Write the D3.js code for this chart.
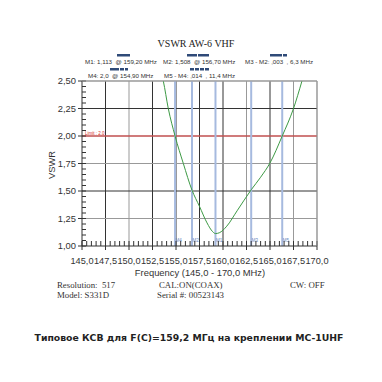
<!DOCTYPE html>
<html><head><meta charset="utf-8">
<script src="https://cdn.jsdelivr.net/npm/d3@7"></script>
<style>body{margin:0;background:#fff}svg{display:block}text{white-space:pre}</style>
</head><body>
<script>
// ---- data ----
const freqs = [153.2,153.65,154.18,154.9,155.78,156.7,157.5,158.3,158.9,159.2,159.6,160.4,161.5,163.0,164.0,165.0,166.3,167.5,168.4,168.8];
const vswr  = [2.65,2.5,2.25,2.0,1.75,1.508,1.36,1.21,1.13,1.113,1.12,1.18,1.32,1.511,1.625,1.755,2.0,2.25,2.5,2.62];
const xTicks = [145,147.5,150,152.5,155,157.5,160,162.5,165,167.5,170];
const yTicks = [1.0,1.25,1.5,1.75,2.0,2.25,2.5];
const markerNames = ["M4","M2","M1","M3","M5"];
const markerFreqs = [154.9,156.7,159.2,163.0,166.3];
const limitValue = 2.0;
const titleText = "VSWR AW-6 VHF";
const infoLine1 = ["M1: 1,113  @ 159,20 MHz","M2: 1,508  @ 156,70 MHz","M3 - M2: ,003  , 6,3 MHz"];
const infoLine2 = ["M4: 2,0  @ 154,90 MHz","M5 - M4: ,014  , 11,4 MHz"];
const footerLeft = ["Resolution:  517","Model: S331D"];
const footerMid = ["CAL:ON(COAX)","Serial #: 00523143"];
const footerRight = ["CW: OFF"];
const caption = "Типовое КСВ для F(C)=159,2 МГц на креплении MC-1UHF";

const W=382,H=382;
const svg=d3.select("body").append("svg").attr("width",W).attr("height",H);
const L=82,R=317,T=81,B=246;
const x=d3.scaleLinear().domain([145,170]).range([L,R]);
const y=d3.scaleLinear().domain([1,2.5]).range([B,T]);

// title
svg.append("text").attr("x",196).attr("y",47).attr("text-anchor","middle")
 .attr("font-family","Liberation Serif").attr("font-size",10).attr("fill","#222").text(titleText);

// info text
const sans="Liberation Sans";
const l1x=[85,163,245], l2x=[88,164];
infoLine1.forEach((t,i)=>svg.append("text").attr("x",l1x[i]).attr("y",64).attr("font-family",sans).attr("font-size",6.2).attr("fill","#333").text(t));
infoLine2.forEach((t,i)=>svg.append("text").attr("x",l2x[i]).attr("y",78).attr("font-family",sans).attr("font-size",6.2).attr("fill","#333").text(t));
// navy bars
const bars=[[117,54,13],[187,54,10],[198,54,11],[270,54,12],[283,54,4],[110,68,9],[120,68,4],[125,68,3],[190,68,4],[195,68,4],[200,68,4],[205,68,4]];
bars.forEach(b=>svg.append("rect").attr("x",b[0]).attr("y",b[1]).attr("width",b[2]).attr("height",2.5).attr("fill","#2f4a78"));

// grid
const dark=new Set([147.5,152.5,155,157.5,160,165]);
xTicks.forEach(v=>{ if(v===145) return;
 svg.append("line").attr("x1",x(v)).attr("x2",x(v)).attr("y1",T).attr("y2",B)
  .attr("stroke",dark.has(v)?"#333":"#999").attr("stroke-width",1);});
const darkY=new Set([2.25,1.5]);
yTicks.forEach(v=>{ if(v===1) return;
 svg.append("line").attr("x1",L).attr("x2",R).attr("y1",y(v)).attr("y2",y(v))
  .attr("stroke",darkY.has(v)?"#333":"#999").attr("stroke-width",1);});

// limit line
svg.append("line").attr("x1",L).attr("x2",R).attr("y1",y(limitValue)).attr("y2",y(limitValue)).attr("stroke","#d42a2a").attr("stroke-width",1.2);
svg.append("text").attr("x",L+3).attr("y",y(limitValue)-1.5).attr("font-family",sans).attr("font-size",4.5).attr("fill","#d42a2a").text("Limit : 2,0");

// markers
markerFreqs.forEach((f,i)=>{
 svg.append("line").attr("x1",x(f)).attr("x2",x(f)).attr("y1",T).attr("y2",B).attr("stroke","#a6badf").attr("stroke-width",2);
 svg.append("text").attr("x",x(f)+0.5).attr("y",B-4).attr("font-family",sans).attr("font-size",4.5).attr("fill","#6a86c0").text(markerNames[i]);
});

// curve
svg.append("clipPath").attr("id","c").append("rect").attr("x",L).attr("y",T).attr("width",R-L).attr("height",B-T);
const pts=freqs.map((f,i)=>[f,vswr[i]]);
svg.append("path").datum(pts).attr("clip-path","url(#c)")
 .attr("d",d3.line().x(d=>x(d[0])).y(d=>y(d[1])).curve(d3.curveMonotoneX))
 .attr("fill","none").attr("stroke","#3d9a45").attr("stroke-width",1);

// axes
const xAxis=svg.append("g").attr("transform",`translate(0,${B})`);
xAxis.append("line").attr("x1",L).attr("x2",R).attr("stroke","#333");
d3.range(145,170.01,0.5).forEach(v=>{
 xAxis.append("line").attr("x1",x(v)).attr("x2",x(v)).attr("y1",0).attr("y2",-5).attr("stroke","#333");});
xTicks.forEach(v=>{
 xAxis.append("line").attr("x1",x(v)).attr("x2",x(v)).attr("y1",0).attr("y2",4).attr("stroke","#333");
 xAxis.append("text").attr("x",x(v)).attr("y",17.5).attr("text-anchor","middle").attr("font-family",sans).attr("font-size",9.2).attr("fill","#333").text(v.toFixed(1).replace(".",","));
});
const yAxis=svg.append("g");
yAxis.append("line").attr("x1",L).attr("x2",L).attr("y1",T).attr("y2",B).attr("stroke","#333");
d3.range(1,2.5001,0.05).forEach(v=>{
 yAxis.append("line").attr("x1",L).attr("x2",L+4).attr("y1",y(v)).attr("y2",y(v)).attr("stroke","#333");});
yTicks.forEach(v=>{
 yAxis.append("line").attr("x1",L-4).attr("x2",L).attr("y1",y(v)).attr("y2",y(v)).attr("stroke","#333");
 yAxis.append("text").attr("x",L-6).attr("y",y(v)+3.3).attr("text-anchor","end").attr("font-family",sans).attr("font-size",9.4).attr("fill","#333").text(v.toFixed(2).replace(".",","));
});
// top & right border
svg.append("line").attr("x1",L).attr("x2",R).attr("y1",T).attr("y2",T).attr("stroke","#999");
svg.append("line").attr("x1",R).attr("x2",R).attr("y1",T).attr("y2",B).attr("stroke","#999");

// axis titles
svg.append("text").attr("transform","translate(55,165) rotate(-90)").attr("text-anchor","middle").attr("font-family",sans).attr("font-size",9.4).attr("fill","#333").text("VSWR");
svg.append("text").attr("x",200).attr("y",276).attr("text-anchor","middle").attr("font-family",sans).attr("font-size",9.4).attr("fill","#333").text("Frequency (145,0 - 170,0 MHz)");

// footer
const serif="Liberation Serif";
footerLeft.forEach((t,i)=>svg.append("text").attr("x",57).attr("y",288+i*10).attr("font-family",serif).attr("font-size",8.8).attr("fill","#333").text(t));
footerMid.forEach((t,i)=>svg.append("text").attr("x",i?157:159).attr("y",288+i*10).attr("font-family",serif).attr("font-size",8.8).attr("fill","#333").text(t));
footerRight.forEach((t,i)=>svg.append("text").attr("x",290).attr("y",288).attr("font-family",serif).attr("font-size",8.8).attr("fill","#333").text(t));

// caption
svg.append("text").attr("x",189).attr("y",341).attr("text-anchor","middle").attr("font-family","DejaVu Sans").attr("font-weight","bold").attr("font-size",9.3).attr("fill","#222").text(caption);
</script>
</body></html>
